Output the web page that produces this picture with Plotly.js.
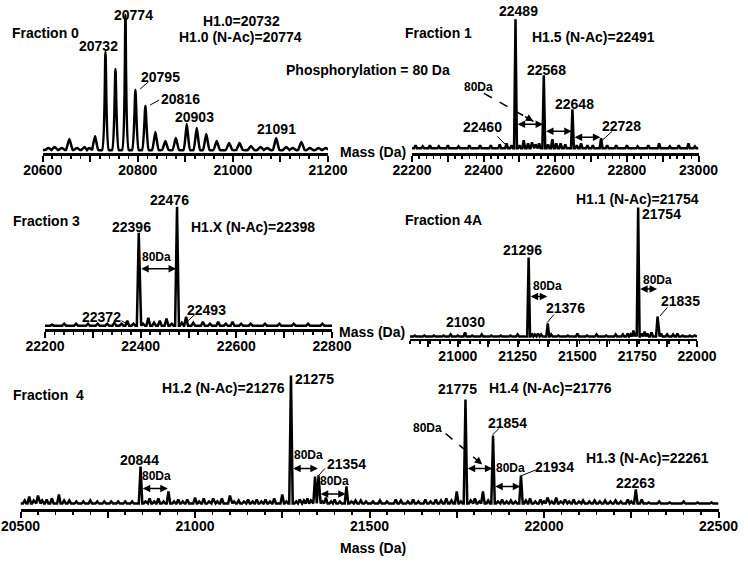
<!DOCTYPE html>
<html>
<head>
<meta charset="utf-8">
<script src="https://cdn.plot.ly/plotly-3.0.1.min.js"></script>
<style>body{margin:0;background:#fff}#chart{width:748px;height:564px}</style>
</head>
<body>
<div id="chart"></div>
<script>
// peak lists: mass (Da) and peak height (plot units)
var frac0Mass = [20612,20625,20640,20656,20672,20688,20698,20710,20732,20753,20774,20795,20816,20837,20858,20880,20903,20924,20944,20966,20992,21014,21038,21058,21072,21091,21112,21126,21144,21162,21180,21195];
var frac0Int  = [2,3,2,11,2,3,2,14,98,81,135,60,44,18,9,12,26,22,16,9,7,7,4,3,2,12,3,2,8,2,2,2];

var frac1Mass = [22210,22230,22250,22275,22300,22330,22360,22390,22420,22445,22464,22478,22489,22500,22512,22524,22535,22545,22555,22568,22580,22592,22603,22615,22628,22648,22660,22672,22690,22705,22728,22745,22770,22800,22830,22860,22890,22920,22945,22972,22990];
var frac1Int  = [3,2,3,2,3,2,3,3,3,4,5,3,129,3,8,5,6,4,5,73,4,9,5,5,4,39,3,5,3,3,10,3,3,3,2,3,5,2,3,5,2];

var frac3Mass = [22215,22240,22265,22290,22310,22330,22345,22360,22372,22385,22396,22405,22416,22428,22440,22454,22465,22476,22486,22495,22510,22530,22545,22562,22578,22592,22610,22630,22660,22690,22720,22750,22780];
var frac3Int  = [1,2,2,2,2,2,3,2,5,2,93,2,8,3,5,7,2,119,3,9,3,4,2,4,2,4,2,2,2,2,2,2,2];

var frac4AMass = [20820,20860,20900,20940,20970,21000,21030,21060,21100,21140,21180,21220,21250,21296,21310,21322,21335,21348,21376,21390,21420,21460,21500,21540,21580,21620,21660,21690,21710,21722,21734,21742,21754,21768,21781,21793,21810,21835,21850,21875,21900,21918,21940,21970,21990];
var frac4AInt  = [1,1,1,1,2,1,4,1,2,1,1,1,2,79,3,2,3,2,13,2,1,1,3,1,2,1,2,2,3,2,6,4,129,3,5,3,4,20,3,2,2,3,1,1,1];

var frac4Mass = [20512,20525,20538,20550,20562,20575,20590,20610,20625,20640,20660,20680,20700,20720,20740,20760,20780,20800,20820,20844,20858,20870,20883,20895,20910,20924,20940,20952,20965,20978,21000,21012,21025,21040,21052,21064,21077,21100,21112,21125,21140,21152,21165,21177,21190,21202,21215,21227,21250,21262,21275,21290,21300,21312,21322,21332,21344,21354,21365,21375,21390,21400,21415,21434,21448,21460,21475,21490,21510,21530,21550,21575,21590,21610,21625,21640,21660,21675,21690,21705,21720,21735,21750,21762,21775,21790,21802,21815,21825,21840,21854,21868,21880,21893,21905,21918,21934,21948,21960,21975,21990,22000,22010,22022,22035,22048,22060,22072,22085,22100,22112,22130,22145,22160,22175,22190,22205,22220,22240,22250,22263,22280,22300,22330,22360,22400,22440,22480];
var frac4Int  = [3,7,3,8,3,4,5,9,3,3,2,2,3,2,2,2,2,2,2,37,2,5,2,5,2,12,2,4,2,4,6,2,5,2,5,2,5,8,2,3,2,4,2,4,2,4,2,5,9,2,128,2,4,3,5,3,27,28,2,6,2,4,2,17,2,3,3,2,2,3,2,4,3,2,4,2,4,2,4,3,5,3,12,2,104,3,5,2,12,3,68,2,4,2,3,2,28,3,5,2,4,2,6,2,6,2,4,2,4,2,3,2,3,2,3,2,3,2,4,2,14,4,1,2,1,2,1,1];

// axis tick labels
var tickA = [20600,20700,20800,20900,21000,21100,21200];
var textA = ['20600','','20800','','21000','','21200'];
var tickB = [22200,22300,22400,22500,22600,22700,22800,22900,23000];
var textB = ['22200','','22400','','22600','','22800','','23000'];
var tickC = [22200,22300,22400,22500,22600,22700,22800];
var textC = ['22200','','22400','','22600','','22800'];
var tickD = [20875,21000,21125,21250,21375,21500,21625,21750,21875,22000];
var textD = ['','21000','','21250','','21500','','21750','','22000'];
var tickE = [20500,20750,21000,21250,21500,21750,22000,22250,22500];
var textE = ['20500','','21000','','21500','','22000','','22500'];

var W = 748, H = 564;

// turn a peak list into a stick spectrum line
function peakTrace(mass, inten, hw, lo, hi, n, smooth) {
  var x = [lo], y = [0], prev = lo;
  for (var i = 0; i < mass.length; i++) {
    var left = Math.max(mass[i] - hw, prev);
    var right = mass[i] + hw;
    if (i < mass.length - 1) right = Math.min(right, (mass[i] + mass[i+1]) / 2);
    x.push(left, mass[i], right);
    y.push(0, inten[i], 0);
    prev = right;
  }
  x.push(hi); y.push(0);
  var s = n > 1 ? n : '';
  return {
    x: x, y: y, type: 'scatter', mode: 'lines', xaxis: 'x' + s, yaxis: 'y' + s,
    line: {color: '#000', width: 2.5, shape: smooth ? 'spline' : 'linear', smoothing: 0.5},
    hoverinfo: 'skip'
  };
}

function xAxis(px0, px1, range, vals, texts, minor, n) {
  return {
    domain: [px0 / W, px1 / W], range: range, anchor: 'y' + (n > 1 ? n : ''),
    showline: true, linewidth: 2.5, linecolor: '#000', mirror: false,
    showgrid: false, zeroline: false,
    ticks: 'outside', ticklen: 6, tickwidth: 2, tickcolor: '#000',
    tickmode: 'array', tickvals: vals, ticktext: texts, ticklabelstandoff: -3,
    tickfont: {size: 14, weight: 'bold'},
    minor: {dtick: minor, tick0: range[0], ticks: 'outside', ticklen: 3, tickwidth: 1.5, tickcolor: '#000', showgrid: false}
  };
}
function yAxis(pxTop, pxBot, range, n) {
  return {domain: [1 - pxBot / H, 1 - pxTop / H], range: range, visible: false,
          anchor: 'x' + (n > 1 ? n : ''), fixedrange: true};
}

var data = [
  peakTrace(frac0Mass, frac0Int, 7, 20600, 21200, 1, true),
  peakTrace(frac1Mass, frac1Int, 4, 22200, 23000, 2, false),
  peakTrace(frac3Mass, frac3Int, 4, 22200, 22800, 3, false),
  peakTrace(frac4AMass, frac4AInt, 6, 20800, 22000, 4, false),
  peakTrace(frac4Mass, frac4Int, 5, 20500, 22500, 5, false)
];

var ann = [], shapes = [];
function ref(n) { return n > 1 ? String(n) : ''; }
function lab(t, x, y, n, size, anchor) {
  ann.push({text: t, x: x, y: y, xref: 'x' + ref(n), yref: 'y' + ref(n), showarrow: false,
            xanchor: anchor || 'center', yanchor: 'middle', font: {size: size || 14, weight: 'bold', color: '#000'}});
}
function note(t, px, py) {
  ann.push({text: t, x: px / W, y: 1 - py / H, xref: 'paper', yref: 'paper', showarrow: false,
            xanchor: 'center', yanchor: 'middle', font: {size: 14, weight: 'bold', color: '#000'}});
}
function span(x1, x2, y, n) {
  ann.push({text: '', x: x2, y: y, ax: x1, ay: y, xref: 'x' + ref(n), yref: 'y' + ref(n),
            axref: 'x' + ref(n), ayref: 'y' + ref(n), showarrow: true, arrowhead: 2, startarrowhead: 2,
            arrowside: 'end+start', arrowsize: 1, arrowwidth: 1.5, arrowcolor: '#000', standoff: 0, startstandoff: 0});
}
function leader(x1, y1, x2, y2, n) {
  shapes.push({type: 'line', xref: 'x' + ref(n), yref: 'y' + ref(n), x0: x1, y0: y1, x1: x2, y1: y2,
               line: {color: '#000', width: 1}});
}
function dashArrow(x1, y1, x2, y2, n) {
  shapes.push({type: 'line', xref: 'x' + ref(n), yref: 'y' + ref(n), x0: x1, y0: y1, x1: x2, y1: y2,
               line: {color: '#000', width: 1.5, dash: 'dash'}});
  ann.push({text: '', x: x2, y: y2, ax: x2 - (x2 - x1) * 0.2, ay: y2 - (y2 - y1) * 0.2,
            xref: 'x' + ref(n), yref: 'y' + ref(n), axref: 'x' + ref(n), ayref: 'y' + ref(n),
            showarrow: true, arrowhead: 2, arrowsize: 1, arrowwidth: 1.5, arrowcolor: '#000', standoff: 0});
}

// Fraction 0
lab('Fraction 0', 20605, 117, 1);
lab('20774', 20790, 135, 1);
lab('20732', 20717, 104, 1);
lab('H1.0=20732', 21018, 129, 1);
lab('H1.0 (N-Ac)=20774', 21015, 113, 1);
lab('20795', 20847, 73, 1);
lab('20816', 20889, 51, 1);
lab('20903', 20920, 33, 1);
lab('21091', 21091, 21, 1);
leader(20805, 61, 20822, 68, 1);
leader(20826, 45, 20845, 50, 1);

// Fraction 1
lab('Fraction 1', 22273, 115, 2);
lab('22489', 22496, 137, 2);
lab('H1.5 (N-Ac)=22491', 22706, 111, 2);
lab('22568', 22576, 78, 2);
lab('80Da', 22387, 61, 2, 12);
dashArrow(22401, 55, 22539, 27, 2);
lab('22648', 22655, 44, 2);
lab('22460', 22396, 21, 2);
leader(22438, 12, 22466, 2, 2);
lab('22728', 22784, 22, 2);
leader(22759, 17, 22731, 8, 2);
span(22491, 22566, 24, 2);
span(22570, 22646, 17, 2);
span(22650, 22726, 11, 2);

// Fraction 3
lab('Fraction 3', 22204, 105, 3);
lab('22396', 22381, 99, 3);
lab('22476', 22461, 126, 3);
lab('H1.X (N-Ac)=22398', 22635, 99, 3);
lab('80Da', 22433, 69, 3, 12);
span(22398, 22474, 57, 3);
lab('22372', 22318, 9, 3);
leader(22360, 5, 22375, 0.5, 3);
lab('22493', 22537, 16, 3);
leader(22499, 5, 22513, 11, 3);

// Fraction 4A
lab('Fraction 4A', 20942, 116, 4);
lab('H1.1 (N-Ac)=21754', 21750, 137, 4);
lab('21754', 21762, 122, 4, 14, 'left');
lab('21296', 21270, 86, 4);
lab('80Da', 21374, 51, 4, 12);
span(21298, 21374, 40, 4);
lab('21376', 21451, 29, 4);
leader(21374, 14, 21402, 22, 4);
lab('21030', 21033, 15, 4);
lab('80Da', 21764, 57, 4, 12, 'left');
span(21756, 21833, 47.5, 4);
lab('21835', 21932, 35.5, 4);
leader(21845, 20.5, 21876, 29, 4);

// Fraction 4
lab('Fraction\u00a0 4', 20580, 108.5, 5);
lab('H1.2 (N-Ac)=21276', 21083, 115, 5);
lab('21275', 21281, 124, 5, 14, 'left');
lab('20844', 20842, 43.5, 5);
lab('80Da', 20890, 27.5, 5, 12);
span(20846, 20922, 15, 5);
lab('80Da', 21325, 48.5, 5, 12);
span(21277, 21352, 35, 5);
lab('21354', 21435, 39.5, 5);
leader(21353, 27.5, 21372, 35, 5);
lab('80Da', 21401, 22.5, 5, 12);
span(21356, 21432, 9.5, 5);
lab('21775', 21751, 114, 5);
lab('H1.4 (N-Ac)=21776', 22019, 115, 5);
lab('80Da', 21666, 75, 5, 12);
dashArrow(21718, 70, 21823, 39, 5);
lab('21854', 21895, 80, 5);
leader(21852, 68.5, 21871, 75, 5);
span(21777, 21852, 35, 5);
lab('80Da', 21905, 35, 5, 12);
leader(21933, 27.5, 21976, 33.5, 5);
lab('21934', 22031, 36, 5);
span(21856, 21932, 17, 5);
lab('H1.3 (N-Ac)=22261', 22296, 45, 5);
lab('22263', 22263, 20, 5);

note('Phosphorylation = 80 Da', 368, 70);
note('Mass (Da)', 373, 152);
note('Mass (Da)', 372, 332);
note('Mass (Da)', 373, 548);

var layout = {
  width: W, height: H,
  margin: {l: 0, r: 0, t: 0, b: 0},
  paper_bgcolor: '#fff', plot_bgcolor: 'rgba(0,0,0,0)',
  showlegend: false,
  font: {family: 'Arial, "Liberation Sans", sans-serif', size: 14, color: '#000', weight: 'bold'},
  xaxis:  xAxis(42.7, 328, [20600, 21200], tickA, textA, 20, 1),
  xaxis2: xAxis(412, 698.5, [22200, 23000], tickB, textB, 20, 2),
  xaxis3: xAxis(45, 332, [22200, 22800], tickC, textC, 20, 3),
  xaxis4: xAxis(410, 697, [20800, 22000], tickD, textD, 125 / 3, 4),
  xaxis5: xAxis(20.5, 718.5, [20500, 22500], tickE, textE, 50, 5),
  yaxis:  yAxis(7, 153, [-3, 143], 1),
  yaxis2: yAxis(7, 153, [-4.7, 141.3], 2),
  yaxis3: yAxis(185.7, 329, [-3.3, 140], 3),
  yaxis4: yAxis(196.5, 338.5, [-2, 140], 4),
  yaxis5: yAxis(363.5, 509, [-5.5, 140], 5),
  annotations: ann,
  shapes: shapes
};

Plotly.newPlot('chart', data, layout, {displayModeBar: false, staticPlot: true});
</script>
</body>
</html>
